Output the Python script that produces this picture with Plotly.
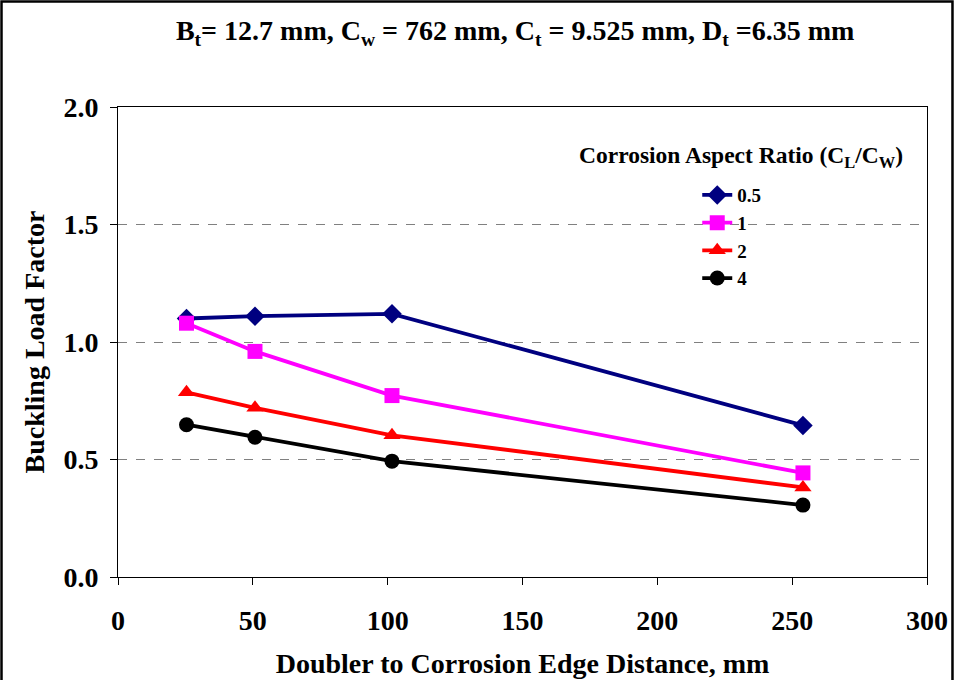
import plotly.graph_objects as go

# Doubler-to-corrosion edge distance (mm)
distance_mm = [25.4, 50.8, 101.6, 254.0]

# Buckling load factor per corrosion aspect ratio C_L/C_W
aspect_labels = ["0.5", "1", "2", "4"]
blf_ratio_05 = [1.10, 1.11, 1.12, 0.645]
blf_ratio_1 = [1.08, 0.96, 0.772, 0.443]
blf_ratio_2 = [0.786, 0.720, 0.603, 0.381]
blf_ratio_4 = [0.648, 0.595, 0.493, 0.306]

x_ticks = [0, 50, 100, 150, 200, 250, 300]
y_ticks = [0.0, 0.5, 1.0, 1.5, 2.0]

series = [blf_ratio_05, blf_ratio_1, blf_ratio_2, blf_ratio_4]
colors = ["#000080", "#FF00FF", "#FF0000", "#000000"]
symbols = ["diamond", "square", "triangle-up", "circle"]
sizes = [15, 15, 15, 15]

FONT = "Liberation Serif"

fig = go.Figure()
for label, vals, col, sym, sz in zip(aspect_labels, series, colors, symbols, sizes):
    fig.add_trace(go.Scatter(
        x=distance_mm, y=vals, name=label, mode="lines+markers",
        line=dict(color=col, width=3.8),
        marker=dict(symbol=sym, size=sz, color=col),
    ))

fig.update_layout(
    width=954, height=680,
    margin=dict(l=118, r=27, t=107, b=103, autoexpand=False),
    paper_bgcolor="white", plot_bgcolor="white",
    font=dict(family=FONT, color="black", size=20),
    showlegend=True,
    title=dict(
        text="<b>B<sub>t</sub>= 12.7 mm, C<sub>w</sub> = 762 mm, C<sub>t</sub> = 9.525 mm, D<sub>t</sub> =6.35 mm</b>",
        x=0.540, xanchor="center", y=0.955, yanchor="middle",
        font=dict(family=FONT, size=28, color="black"),
    ),
    legend=dict(
        x=0.716, y=0.853, xanchor="left", yanchor="top",
        font=dict(family=FONT, size=19, color="black", weight="bold"),
        bgcolor="rgba(0,0,0,0)", tracegroupgap=0, itemwidth=30,
    ),
    xaxis=dict(
        range=[0, 300], tickvals=x_ticks, ticktext=[str(v) for v in x_ticks],
        ticks="outside", ticklen=7, tickcolor="black", ticklabelstandoff=11,
        showline=True, linecolor="black", linewidth=1, mirror=True,
        showgrid=False, zeroline=False, automargin=False,
        tickfont=dict(family=FONT, size=28, weight="bold"),
        title=dict(text="<b>Doubler to Corrosion Edge Distance, mm</b>",
                   font=dict(family=FONT, size=28), standoff=18),
    ),
    yaxis=dict(
        range=[0, 2.0], tickvals=y_ticks, ticktext=[f"{v:.1f}" for v in y_ticks],
        ticks="outside", ticklen=7, tickcolor="black", ticklabelstandoff=6,
        showline=True, linecolor="black", linewidth=1, mirror=True,
        showgrid=True, gridcolor="#808080", gridwidth=1, griddash="dash",
        zeroline=False, automargin=False,
        tickfont=dict(family=FONT, size=28, weight="bold"),
        title=dict(text="<b>Buckling Load Factor</b>",
                   font=dict(family=FONT, size=28), standoff=10),
    ),
    annotations=[dict(
        text="<b>Corrosion Aspect Ratio (C<sub>L</sub>/C<sub>W</sub>)</b>",
        xref="paper", yref="paper", x=0.77, y=0.894,
        xanchor="center", yanchor="middle", showarrow=False,
        font=dict(family=FONT, size=23.5, color="black"),
    )],
    shapes=[dict(
        type="rect", xref="paper", yref="paper",
        x0=-0.1440, x1=1.0315, y0=-0.25, y1=1.2245,
        line=dict(color="black", width=2.5), fillcolor="rgba(0,0,0,0)",
        layer="above",
    )],
)

fig.write_html("out.html")
